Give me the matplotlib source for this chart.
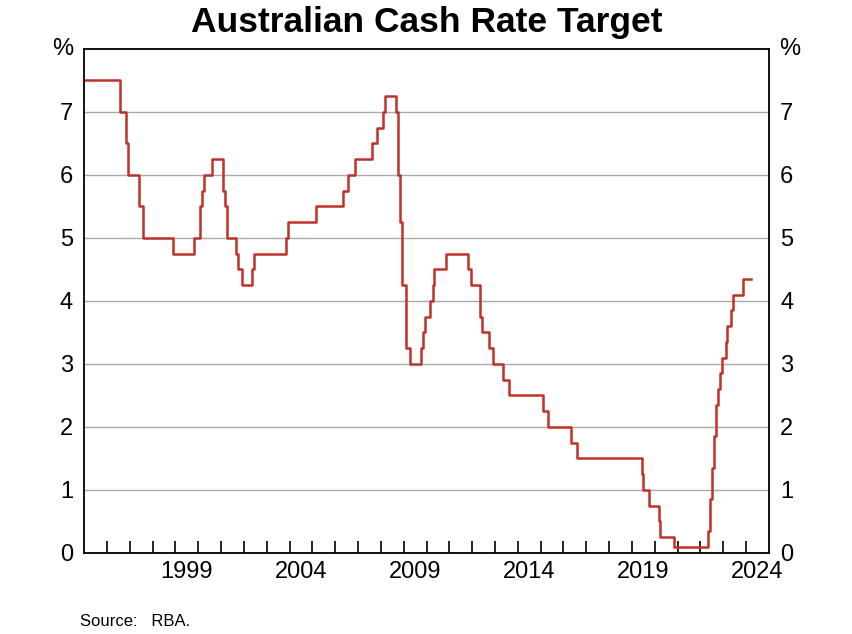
import pandas as pd
import matplotlib.pyplot as plt
from matplotlib.ticker import FixedLocator, NullFormatter

plt.rcParams["font.family"] = "Liberation Sans"

LINECOLOR = "#c0312b"

# RBA cash rate target: effective dates and new rate (%)
dates = [
    "1995-01-01", "1996-07-31", "1996-11-06", "1996-12-11", "1997-05-23", "1997-07-30",
    "1998-12-02", "1999-11-03", "2000-02-02", "2000-03-01", "2000-04-05", "2000-08-02",
    "2001-02-07", "2001-03-07", "2001-04-04", "2001-09-05", "2001-10-03", "2001-12-05",
    "2002-05-08", "2002-06-05", "2003-11-05", "2003-12-03", "2005-03-02", "2006-05-03",
    "2006-08-02", "2006-11-08", "2007-08-08", "2007-11-07", "2008-02-06", "2008-03-05",
    "2008-09-03", "2008-10-08", "2008-11-05", "2008-12-03", "2009-02-04", "2009-04-08",
    "2009-10-07", "2009-11-04", "2009-12-02", "2010-03-03", "2010-04-07", "2010-05-05",
    "2010-11-03", "2011-11-02", "2011-12-07", "2012-05-02", "2012-06-06", "2012-10-03",
    "2012-12-05", "2013-05-08", "2013-08-07", "2015-02-04", "2015-05-06", "2016-05-04",
    "2016-08-03", "2019-06-05", "2019-07-03", "2019-10-02", "2020-03-04", "2020-03-20",
    "2020-11-04", "2022-05-04", "2022-06-08", "2022-07-06", "2022-08-03", "2022-09-07",
    "2022-10-05", "2022-11-02", "2022-12-07", "2023-02-08", "2023-03-08", "2023-05-03",
    "2023-06-07", "2023-11-08", "2024-03-20",
]
rates = [
    7.50, 7.00, 6.50, 6.00, 5.50, 5.00,
    4.75, 5.00, 5.50, 5.75, 6.00, 6.25,
    5.75, 5.50, 5.00, 4.75, 4.50, 4.25,
    4.50, 4.75, 5.00, 5.25, 5.50, 5.75,
    6.00, 6.25, 6.50, 6.75, 7.00, 7.25,
    7.00, 6.00, 5.25, 4.25, 3.25, 3.00,
    3.25, 3.50, 3.75, 4.00, 4.25, 4.50,
    4.75, 4.50, 4.25, 3.75, 3.50, 3.25,
    3.00, 2.75, 2.50, 2.25, 2.00, 1.75,
    1.50, 1.25, 1.00, 0.75, 0.50, 0.25,
    0.10, 0.35, 0.85, 1.35, 1.85, 2.35,
    2.60, 2.85, 3.10, 3.35, 3.60, 3.85,
    4.10, 4.35, 4.35,
]
year_labels = ["1999", "2004", "2009", "2014", "2019", "2024"]

d = pd.to_datetime(dates)
x = d.year + (d.dayofyear - 1) / 365.25

fig = plt.figure(figsize=(8.53, 6.34), dpi=100)
ax = fig.add_axes([0.0985, 0.1278, 0.803, 0.795])
ax.plot(x, rates, drawstyle="steps-post", color=LINECOLOR, lw=1.8)

ax.set_xlim(1995, 2025)
ax.set_ylim(0, 8)
ax.set_yticks(range(0, 8))
ax.grid(axis="y", color="#aaaaaa", lw=1)
ax.set_axisbelow(True)

ax.xaxis.set_major_locator(FixedLocator([int(y) + 0.5 for y in year_labels]))
ax.set_xticklabels(year_labels, fontsize=17)
ax.xaxis.set_minor_locator(FixedLocator(range(1996, 2025)))
ax.xaxis.set_minor_formatter(NullFormatter())
ax.tick_params(axis="x", which="major", length=0, pad=6)
ax.tick_params(axis="x", which="minor", direction="in", length=9, width=1.2)
ax.tick_params(axis="y", length=0, labelsize=17, labelright=True, pad=8)
for s in ax.spines.values():
    s.set_linewidth(1.3)

ax.text(-0.015, 1.0, "%", transform=ax.transAxes, ha="right", va="center", fontsize=17)
ax.text(1.015, 1.0, "%", transform=ax.transAxes, ha="left", va="center", fontsize=17)
fig.suptitle("Australian Cash Rate Target", y=0.99, fontsize=25.5, fontweight="bold")
fig.text(0.094, 0.012, "Source:   RBA.", fontsize=12)

fig.savefig("out.png", dpi=100)
